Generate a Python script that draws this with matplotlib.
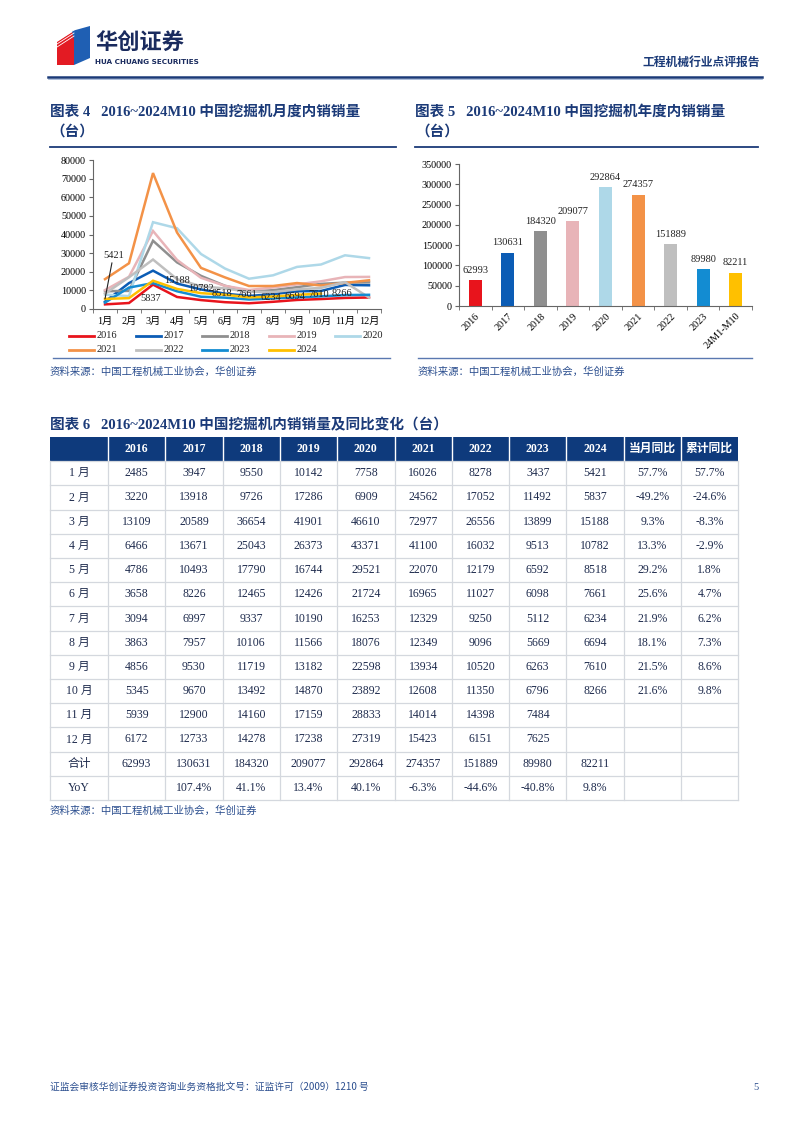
import matplotlib
matplotlib.use("Agg")
import matplotlib.pyplot as plt
from matplotlib.patches import Rectangle, Polygon
import numpy as np

# ---------------------------------------------------------------------------
# data
# ---------------------------------------------------------------------------
months = ["1月", "2月", "3月", "4月", "5月", "6月", "7月", "8月", "9月", "10月", "11月", "12月"]
years = ["2016", "2017", "2018", "2019", "2020", "2021", "2022", "2023", "2024"]

s2016 = [2485, 3220, 13109, 6466, 4786, 3658, 3094, 3863, 4856, 5345, 5939, 6172]
s2017 = [3947, 13918, 20589, 13671, 10493, 8226, 6997, 7957, 9530, 9670, 12900, 12733]
s2018 = [9550, 9726, 36654, 25043, 17790, 12465, 9337, 10106, 11719, 13492, 14160, 14278]
s2019 = [10142, 17286, 41901, 26373, 16744, 12426, 10190, 11566, 13182, 14870, 17159, 17238]
s2020 = [7758, 6909, 46610, 43371, 29521, 21724, 16253, 18076, 22598, 23892, 28833, 27319]
s2021 = [16026, 24562, 72977, 41100, 22070, 16965, 12329, 12349, 13934, 12608, 14014, 15423]
s2022 = [8278, 17052, 26556, 16032, 12179, 11027, 9250, 9096, 10520, 11350, 14398, 6151]
s2023 = [3437, 11492, 13899, 9513, 6592, 6098, 5112, 5669, 6263, 6796, 7484, 7625]
s2024 = [5421, 5837, 15188, 10782, 8518, 7661, 6234, 6694, 7610, 8266]

annual_labels = ["2016", "2017", "2018", "2019", "2020", "2021", "2022", "2023", "24M1-M10"]
annual_totals = [62993, 130631, 184320, 209077, 292864, 274357, 151889, 89980, 82211]
annual_yoy = ["", "107.4%", "41.1%", "13.4%", "40.1%", "-6.3%", "-44.6%", "-40.8%", "9.8%"]
month_yoy = ["57.7%", "-49.2%", "9.3%", "13.3%", "29.2%", "25.6%", "21.9%", "18.1%", "21.5%", "21.6%"]
cum_yoy = ["57.7%", "-24.6%", "-8.3%", "-2.9%", "1.8%", "4.7%", "6.2%", "7.3%", "8.6%", "9.8%"]

series = [s2016, s2017, s2018, s2019, s2020, s2021, s2022, s2023, s2024]
colors = ["#e8141c", "#0b5cb5", "#8f8f8f", "#e8b4b8", "#aed8e8",
          "#f39247", "#bfbfbf", "#138cd2", "#ffc000"]

# ---------------------------------------------------------------------------
# page setup
# ---------------------------------------------------------------------------
W, H = 802, 1133
NAVY = "#1b3a78"
TXT = "#1e2b4d"
SERIF = ["Liberation Serif", "Noto Sans CJK SC"]
CJK = ["Noto Sans CJK SC", "DejaVu Sans"]

plt.rcParams["font.family"] = SERIF
plt.rcParams["axes.unicode_minus"] = False

fig = plt.figure(figsize=(W / 100, H / 100), dpi=100)
page = fig.add_axes([0, 0, 1, 1])
page.set_xlim(0, W)
page.set_ylim(H, 0)
page.axis("off")


def px_rect(left, top, right, bottom):
    return [left / W, 1 - bottom / H, (right - left) / W, (bottom - top) / H]


# header / logo
page.add_patch(Polygon([(57, 42), (74, 31), (74, 65), (57, 65)], closed=True,
                       facecolor="#e31b23", edgecolor="none"))
page.add_patch(Polygon([(72, 31), (90, 26), (90, 58), (74, 65), (74, 40)], closed=True,
                       facecolor="#1f5fb3", edgecolor="none"))
for k in range(5):
    page.plot([57, 74], [47 - k * 3, 36 - k * 3], color="white", lw=0.6)
page.text(95, 43, "华创证券", fontsize=16, fontweight="bold", color="#1a2b5e",
          family=CJK, va="center", ha="left")
page.text(95, 61.5, "HUA CHUANG SECURITIES", fontsize=5.2, fontweight="bold",
          color="#1a2b5e", family=["DejaVu Sans"], va="center", ha="left")
page.text(760, 62, "工程机械行业点评报告", fontsize=8.5, fontweight="bold", color=NAVY,
          family=CJK, ha="right", va="center")
page.plot([48, 762], [77, 77], color=NAVY, lw=1.8)
page.plot([48, 762], [79, 79], color="#8aa2cc", lw=0.5)

# section titles
title_kw = dict(fontsize=10.5, fontweight="bold", color=NAVY, va="center", ha="left")
page.text(50, 112, "图表 4   2016~2024M10 中国挖掘机月度内销销量", **title_kw)
page.text(50, 132, "（台）", **title_kw)
page.text(415, 112, "图表 5   2016~2024M10 中国挖掘机年度内销销量", **title_kw)
page.text(415, 132, "（台）", **title_kw)
for x0, x1 in [(50, 396), (415, 758)]:
    page.plot([x0, x1], [147, 147], color=NAVY, lw=1.3)
    page.plot([x0 + 3, x1 - 6], [358, 358], color="#5a78b0", lw=1.0)

src_kw = dict(fontsize=7.5, color="#2c4f8f", family=CJK, va="center", ha="left")
page.text(50, 372, "资料来源：中国工程机械工业协会，华创证券", **src_kw)
page.text(418, 372, "资料来源：中国工程机械工业协会，华创证券", **src_kw)

# ---------------------------------------------------------------------------
# chart 4 - monthly lines
# ---------------------------------------------------------------------------
ax1 = fig.add_axes(px_rect(93, 160, 381, 309))
ax1.patch.set_alpha(0)
x = np.arange(len(months))
for yr, vals, c in zip(years, series, colors):
    ax1.plot(x[:len(vals)], vals, color=c, lw=1.8, label=yr, solid_joinstyle="miter")

ax1.annotate(f"{s2024[0]}", xy=(0, s2024[0]), xytext=(6, 28), textcoords="offset points",
             fontsize=7.5, ha="center", va="bottom", color="#222222",
             arrowprops=dict(arrowstyle="-", color="#222222", lw=0.8, shrinkA=0, shrinkB=0))
for i in range(1, len(s2024)):
    ax1.annotate(f"{s2024[i]}", xy=(i, s2024[i]), xytext=(8, 0), textcoords="offset points",
                 fontsize=7.5, ha="left", va="center", color="#222222")

ax1.set_xlim(-0.5, len(months) - 0.5)
ax1.set_ylim(0, 80000)
ax1.set_yticks(np.arange(0, 80001, 10000))
ax1.set_xticks(x)
ax1.set_xticklabels(months, fontsize=7.3)
ax1.set_xticks(np.arange(-0.5, len(months), 1), minor=True)
ax1.tick_params(axis="x", which="major", length=0, pad=6)
ax1.tick_params(axis="x", which="minor", length=3, color="#666666")
ax1.tick_params(axis="y", labelsize=7.3, length=3, color="#666666", pad=2)
for sp in ["top", "right"]:
    ax1.spines[sp].set_visible(False)
for sp in ["left", "bottom"]:
    ax1.spines[sp].set_color("#666666")
    ax1.spines[sp].set_linewidth(0.8)

# legend (row-major, 5 per row)
for i, (yr, c) in enumerate(zip(years, colors)):
    row, col = divmod(i, 5)
    lx = 69 + col * 66.5
    ly = 336 + row * 13.5
    page.plot([lx, lx + 25], [ly, ly], color=c, lw=2)
    page.text(lx + 28, ly, yr, fontsize=7.5, va="center", ha="left", color="#222222")

# ---------------------------------------------------------------------------
# chart 5 - annual bars
# ---------------------------------------------------------------------------
ax2 = fig.add_axes(px_rect(459, 164, 752, 306))
ax2.patch.set_alpha(0)
xb = np.arange(len(annual_labels))
ax2.bar(xb, annual_totals, width=0.4, color=colors)
for xi, v in zip(xb, annual_totals):
    ax2.annotate(f"{v}", xy=(xi, v), xytext=(0, 4), textcoords="offset points",
                 fontsize=7.5, ha="center", va="bottom", color="#222222")
ax2.set_xlim(-0.5, len(annual_labels) - 0.5)
ax2.set_ylim(0, 350000)
ax2.set_yticks(np.arange(0, 350001, 50000))
ax2.set_xticks(xb)
ax2.set_xticklabels(annual_labels, fontsize=7.3, rotation=45, ha="right", rotation_mode="anchor")
ax2.set_xticks(np.arange(-0.5, len(annual_labels), 1), minor=True)
ax2.tick_params(axis="x", which="major", length=0, pad=4)
ax2.tick_params(axis="x", which="minor", length=3, color="#666666")
ax2.tick_params(axis="y", labelsize=7.3, length=3, color="#666666", pad=2)
for sp in ["top", "right"]:
    ax2.spines[sp].set_visible(False)
for sp in ["left", "bottom"]:
    ax2.spines[sp].set_color("#666666")
    ax2.spines[sp].set_linewidth(0.8)

# ---------------------------------------------------------------------------
# table 6
# ---------------------------------------------------------------------------
page.text(50, 425, "图表 6   2016~2024M10 中国挖掘机内销销量及同比变化（台）", **title_kw)

tab_left, tab_top, row_h = 50, 437, 24.2
col_w = [58] + [57.3] * 11
col_x = np.concatenate([[tab_left], tab_left + np.cumsum(col_w)])
header = [""] + years + ["当月同比", "累计同比"]

rows = []
for m in range(12):
    r = [f"{m + 1} 月"]
    for vals in series:
        r.append(str(vals[m]) if m < len(vals) else "")
    r.append(month_yoy[m] if m < len(month_yoy) else "")
    r.append(cum_yoy[m] if m < len(cum_yoy) else "")
    rows.append(r)
rows.append(["合计"] + [str(v) for v in annual_totals] + ["", ""])
rows.append(["YoY"] + annual_yoy + ["", ""])

n_rows = len(rows) + 1
tab_bottom = tab_top + n_rows * row_h

page.add_patch(Rectangle((col_x[0], tab_top), col_x[-1] - col_x[0], row_h,
                         facecolor="#0e3a7c", edgecolor="none"))
for j, h in enumerate(header):
    cx = (col_x[j] + col_x[j + 1]) / 2
    page.text(cx, tab_top + row_h / 2, h, fontsize=8.5, fontweight="bold", color="white",
              ha="center", va="center")
for xc in col_x[1:-1]:
    page.plot([xc, xc], [tab_top, tab_top + row_h], color="white", lw=1.0)

grid_c = "#d4d8de"
for i in range(1, n_rows + 1):
    yl = tab_top + i * row_h
    page.plot([col_x[0], col_x[-1]], [yl, yl], color=grid_c, lw=0.9)
for xc in col_x:
    page.plot([xc, xc], [tab_top + row_h, tab_bottom], color=grid_c, lw=0.9)

for i, r in enumerate(rows):
    cy = tab_top + (i + 1.5) * row_h
    for j, cell in enumerate(r):
        cx = (col_x[j] + col_x[j + 1]) / 2
        page.text(cx, cy, cell, fontsize=8.5, color=TXT, ha="center", va="center")

page.text(50, 811, "资料来源：中国工程机械工业协会，华创证券", **src_kw)

# footer
page.text(50, 1087, "证监会审核华创证券投资咨询业务资格批文号：证监许可（2009）1210 号",
          fontsize=7, color="#2c4f8f", family=CJK, va="center", ha="left")
page.text(759, 1087, "5", fontsize=7.5, color="#2c4f8f", va="center", ha="right")

fig.savefig("out.png", dpi=100)
